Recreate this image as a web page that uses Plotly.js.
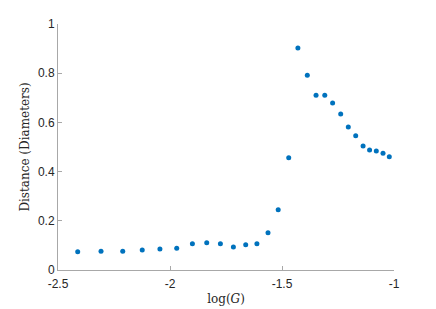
<!DOCTYPE html>
<html><head><meta charset="utf-8">
<script src="https://cdn.plot.ly/plotly-3.0.1.min.js"></script>
<style>html,body{margin:0;padding:0;background:#fff}</style>
</head><body><div id="chart" style="width:436px;height:309px"></div>
<script>
const logG = [-2.412,-2.308,-2.211,-2.124,-2.045,-1.970,-1.900,-1.836,-1.775,-1.717,-1.662,-1.612,-1.5625,-1.517,-1.470,-1.429,-1.387,-1.348,-1.309,-1.274,-1.238,-1.204,-1.171,-1.138,-1.109,-1.079,-1.049,-1.021];
const distance = [0.074,0.076,0.076,0.081,0.085,0.088,0.107,0.111,0.107,0.093,0.103,0.107,0.151,0.245,0.456,0.902,0.792,0.710,0.710,0.679,0.634,0.581,0.546,0.504,0.488,0.484,0.475,0.460];
const xTicks = [-2.5,-2,-1.5,-1];
const xTickText = ['-2.5','-2','-1.5','-1'];
const yTicks = [0,0.2,0.4,0.6,0.8,1];
const yTickText = ['0','0.2','0.4','0.6','0.8','1'];

const axisCol = '#262626';
Plotly.newPlot('chart', [{
  x: logG, y: distance, type: 'scatter', mode: 'markers',
  marker: {color: '#0072BD', size: 5}
}], {
  width: 436, height: 309,
  margin: {l: 58, r: 42, t: 24, b: 39},
  paper_bgcolor: '#fff', plot_bgcolor: '#fff',
  showlegend: false,
  font: {family: 'Liberation Sans, Arial, sans-serif', size: 12, color: axisCol},
  xaxis: {
    range: [-2.5, -1], tickvals: xTicks, ticktext: xTickText,
    showgrid: false, zeroline: false, showline: true, linecolor: '#a8a8a8', linewidth: 1,
    ticks: 'inside', ticklen: 4, tickcolor: '#a8a8a8', ticklabelstandoff: 3,
    tickfont: {size: 12, color: axisCol},
    title: {text: 'log(<i>G</i>)', font: {family: 'DejaVu Serif, Liberation Serif, serif', size: 12, color: axisCol}, standoff: 4}
  },
  yaxis: {
    range: [0, 1], tickvals: yTicks, ticktext: yTickText,
    showgrid: false, zeroline: false, showline: true, linecolor: '#a8a8a8', linewidth: 1,
    ticks: 'inside', ticklen: 4, tickcolor: '#a8a8a8',
    tickfont: {size: 12, color: axisCol},
    title: {text: 'Distance (Diameters)', font: {family: 'DejaVu Serif, Liberation Serif, serif', size: 12, color: axisCol}, standoff: 5}
  }
}, {displayModeBar: false, staticPlot: true});
</script></body></html>
